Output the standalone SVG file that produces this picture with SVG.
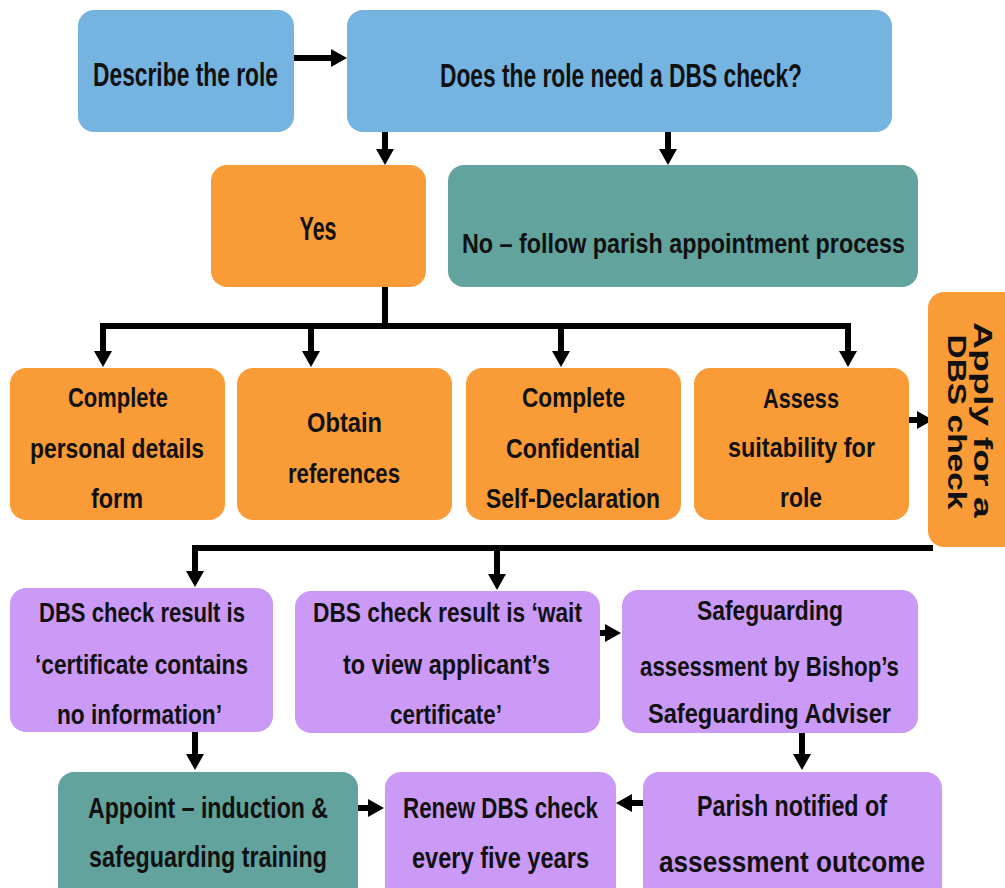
<svg xmlns="http://www.w3.org/2000/svg" width="1005" height="888" viewBox="0 0 1005 888">
<style>
.blue{fill:#75B3E1}
.orange{fill:#F99B36}
.teal{fill:#63A39D}
.purple{fill:#CB9AF7}
text{font-family:"Liberation Sans Narrow","Liberation Sans","DejaVu Sans Condensed",sans-serif;font-weight:bold;fill:#111;text-anchor:middle}
.t33{font-size:33px}
.t30{font-size:28px}
.t28{font-size:28px}
.t27{font-size:27px}
.t29{font-size:29px}
.rot{font-family:"Liberation Sans","DejaVu Sans",sans-serif;font-size:25px}
.ln{fill:none;stroke:#000;stroke-width:6}
</style>
<defs>
<marker id="ah" markerUnits="userSpaceOnUse" markerWidth="20" markerHeight="20" refX="0" refY="9" orient="auto" viewBox="0 0 20 20">
<path d="M0,0 L16,9 L0,18 z" fill="#000"/>
</marker>
</defs>
<rect width="1005" height="888" fill="#fff"/>

<g id="connectors">
<path class="ln" d="M290,58 H331" marker-end="url(#ah)"/>
<path class="ln" d="M385,132 V149" marker-end="url(#ah)"/>
<path class="ln" d="M668,132 V149" marker-end="url(#ah)"/>
<path class="ln" d="M385,287 V326"/>
<path class="ln" d="M103,351 V326 H848 V351" marker-end="url(#ah)"/>
<path class="ln" d="M311,326 V351" marker-end="url(#ah)"/>
<path class="ln" d="M561,326 V351" marker-end="url(#ah)"/>
<path class="ln" d="M103,326 V351" marker-end="url(#ah)"/>
<path class="ln" d="M909,420 H917" marker-end="url(#ah)"/>
<path class="ln" d="M933,548 H195 V571" marker-end="url(#ah)"/>
<path class="ln" d="M497,548 V574" marker-end="url(#ah)"/>
<path class="ln" d="M600,633 H605" marker-end="url(#ah)"/>
<path class="ln" d="M195,732 V754" marker-end="url(#ah)"/>
<path class="ln" d="M802,733 V754" marker-end="url(#ah)"/>
<path class="ln" d="M358,808 H368" marker-end="url(#ah)"/>
<path class="ln" d="M643,803 H632" marker-end="url(#ah)"/>
</g>

<g id="describe">
<rect class="blue" x="78" y="10" width="216" height="122" rx="16"/>
<text class="t33" x="185.5" y="86" textLength="185" lengthAdjust="spacingAndGlyphs">Describe the role</text>
</g>
<g id="does">
<rect class="blue" x="347" y="10" width="545" height="122" rx="16"/>
<text class="t33" x="621" y="87" textLength="362" lengthAdjust="spacingAndGlyphs">Does the role need a DBS check?</text>
</g>
<g id="yes">
<rect class="orange" x="211" y="165" width="215" height="122" rx="16"/>
<text class="t33" x="318" y="240" textLength="37" lengthAdjust="spacingAndGlyphs">Yes</text>
</g>
<g id="no">
<rect class="teal" x="448" y="165" width="470" height="122" rx="16"/>
<text class="t30" x="683.5" y="253" textLength="443" lengthAdjust="spacingAndGlyphs">No – follow parish appointment process</text>
</g>

<g id="personal-details">
<rect class="orange" x="10" y="368" width="215" height="152" rx="16"/>
<text class="t28" x="118" y="407" textLength="100" lengthAdjust="spacingAndGlyphs">Complete</text>
<text class="t28" x="117" y="458" textLength="174" lengthAdjust="spacingAndGlyphs">personal details</text>
<text class="t28" x="117" y="508" textLength="52" lengthAdjust="spacingAndGlyphs">form</text>
</g>
<g id="references">
<rect class="orange" x="237" y="368" width="215" height="152" rx="16"/>
<text class="t28" x="344.5" y="432" textLength="75" lengthAdjust="spacingAndGlyphs">Obtain</text>
<text class="t28" x="344" y="483" textLength="112" lengthAdjust="spacingAndGlyphs">references</text>
</g>
<g id="self-declaration">
<rect class="orange" x="466" y="368" width="215" height="152" rx="16"/>
<text class="t28" x="573.5" y="407" textLength="103" lengthAdjust="spacingAndGlyphs">Complete</text>
<text class="t28" x="573" y="458" textLength="134" lengthAdjust="spacingAndGlyphs">Confidential</text>
<text class="t28" x="573" y="508" textLength="174" lengthAdjust="spacingAndGlyphs">Self-Declaration</text>
</g>
<g id="assess">
<rect class="orange" x="694" y="368" width="215" height="152" rx="16"/>
<text class="t28" x="801" y="408" textLength="76" lengthAdjust="spacingAndGlyphs">Assess</text>
<text class="t28" x="801.5" y="457" textLength="147" lengthAdjust="spacingAndGlyphs">suitability for</text>
<text class="t28" x="801" y="507" textLength="42" lengthAdjust="spacingAndGlyphs">role</text>
</g>
<g id="apply">
<rect class="orange" x="928" y="292" width="95" height="255" rx="16"/>
<text class="t28 rot" transform="translate(974,420) rotate(90)" textLength="196" lengthAdjust="spacingAndGlyphs">Apply for a</text>
<text class="t28 rot" transform="translate(948,422) rotate(90)" textLength="175" lengthAdjust="spacingAndGlyphs">DBS check</text>
</g>

<g id="no-information">
<rect class="purple" x="10" y="588" width="263" height="144" rx="16"/>
<text class="t27" x="142" y="622" textLength="206" lengthAdjust="spacingAndGlyphs">DBS check result is</text>
<text class="t27" x="141.5" y="674" textLength="213" lengthAdjust="spacingAndGlyphs">‘certificate contains</text>
<text class="t27" x="139.5" y="724" textLength="165" lengthAdjust="spacingAndGlyphs">no information’</text>
</g>
<g id="wait-to-view">
<rect class="purple" x="295" y="591" width="305" height="142" rx="16"/>
<text class="t27" x="447.5" y="622" textLength="269" lengthAdjust="spacingAndGlyphs">DBS check result is ‘wait</text>
<text class="t27" x="446.5" y="674" textLength="207" lengthAdjust="spacingAndGlyphs">to view applicant’s</text>
<text class="t27" x="446" y="724" textLength="112" lengthAdjust="spacingAndGlyphs">certificate’</text>
</g>
<g id="safeguarding-assessment">
<rect class="purple" x="622" y="590" width="296" height="143" rx="16"/>
<text class="t27" x="770" y="620" textLength="146" lengthAdjust="spacingAndGlyphs">Safeguarding</text>
<text class="t27" x="769.5" y="676" textLength="259" lengthAdjust="spacingAndGlyphs">assessment by Bishop’s</text>
<text class="t27" x="769.5" y="723" textLength="243" lengthAdjust="spacingAndGlyphs">Safeguarding Adviser</text>
</g>

<g id="appoint">
<rect class="teal" x="58" y="772" width="300" height="130" rx="16"/>
<text class="t29" x="208" y="818" textLength="240" lengthAdjust="spacingAndGlyphs">Appoint – induction &amp;</text>
<text class="t29" x="208" y="867" textLength="238" lengthAdjust="spacingAndGlyphs">safeguarding training</text>
</g>
<g id="renew">
<rect class="purple" x="385" y="772" width="231" height="130" rx="16"/>
<text class="t29" x="500.5" y="818" textLength="195" lengthAdjust="spacingAndGlyphs">Renew DBS check</text>
<text class="t29" x="500.5" y="868" textLength="177" lengthAdjust="spacingAndGlyphs">every five years</text>
</g>
<g id="parish-notified">
<rect class="purple" x="643" y="772" width="299" height="130" rx="16"/>
<text class="t29" x="792" y="816" textLength="190" lengthAdjust="spacingAndGlyphs">Parish notified of</text>
<text class="t29" x="792" y="872" textLength="266" lengthAdjust="spacingAndGlyphs">assessment outcome</text>
</g>
</svg>
